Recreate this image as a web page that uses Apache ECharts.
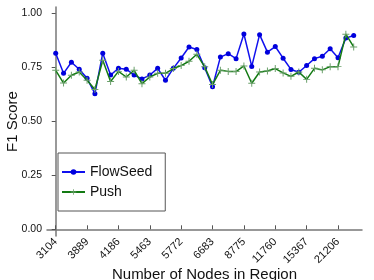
<!DOCTYPE html>
<html><head><meta charset="utf-8">
<script src="https://cdn.jsdelivr.net/npm/echarts@6/dist/echarts.min.js"></script>
<style>html,body{margin:0;padding:0;background:#fff}#c{width:374px;height:280px}</style>
</head><body><div id="c"></div>
<script>
const tickLabels = ['3104','3889','4186','5463','5772','6683','8775','11760','15367','21206'];
const flowSeed = [0.815,0.722,0.773,0.741,0.699,0.628,0.815,0.714,0.745,0.741,0.714,0.696,0.714,0.745,0.690,0.745,0.793,0.844,0.832,0.748,0.660,0.797,0.813,0.790,0.904,0.754,0.901,0.820,0.846,0.792,0.740,0.727,0.758,0.790,0.801,0.836,0.794,0.885,0.897];
const push = [0.736,0.677,0.713,0.728,0.690,0.647,0.782,0.684,0.731,0.705,0.736,0.674,0.705,0.722,0.722,0.744,0.758,0.778,0.810,0.752,0.670,0.736,0.731,0.730,0.756,0.676,0.728,0.733,0.744,0.724,0.708,0.728,0.694,0.745,0.738,0.753,0.753,0.903,0.844];
const tickIdx = tickLabels.map((_, i) => i * 4);
const plus = 'path://M-0.14,-1 L0.14,-1 L0.14,-0.14 L1,-0.14 L1,0.14 L0.14,0.14 L0.14,1 L-0.14,1 L-0.14,0.14 L-1,0.14 L-1,-0.14 L-0.14,-0.14 Z';
const chart = echarts.init(document.getElementById('c'), null, {renderer: 'canvas'});
const F = 'Liberation Sans, Arial, sans-serif';
chart.setOption({
  animation: false,
  textStyle: {fontFamily: F},
  grid: {left: 47, right: 12, top: 7, bottom: 44, containLabel: false, outerBoundsMode: 'none'},
  legend: {
    left: 58, top: 153, orient: 'vertical',
    padding: [12, 13, 12, 3], itemGap: 6, itemWidth: 23, itemHeight: 7,
    borderColor: '#555', borderWidth: 1,
    textStyle: {fontSize: 14, color: '#111', fontFamily: F},
    data: ['FlowSeed', 'Push']
  },
  xAxis: {
    type: 'value', min: -1.11, max: 39.06,
    name: 'Number of Nodes in Region', nameLocation: 'middle', nameGap: 31, nameMoveOverlap: false,
    nameTextStyle: {fontSize: 15, color: '#111', fontFamily: F},
    axisLine: {show: true, lineStyle: {color: '#777', width: 1.5}},
    axisTick: {show: true, inside: true, length: 4, customValues: tickIdx, lineStyle: {color: '#555'}},
    axisLabel: {customValues: tickIdx, rotate: 45, fontSize: 11, color: '#111', margin: 4,
      formatter: v => tickLabels[Math.round(v / 4)] || ''},
    splitLine: {show: false}
  },
  yAxis: {
    type: 'value', min: -0.031, max: 1.029,
    name: 'F1 Score', nameLocation: 'middle', nameGap: 27, nameRotate: 90, nameMoveOverlap: false,
    nameTextStyle: {fontSize: 15, color: '#111', fontFamily: F},
    axisLine: {show: true, lineStyle: {color: '#777', width: 1.5}},
    axisTick: {show: true, inside: false, length: 4, customValues: [0, 0.25, 0.5, 0.75, 1], lineStyle: {color: '#555'}},
    axisLabel: {customValues: [0, 0.25, 0.5, 0.75, 1], fontSize: 10.5, color: '#111', margin: 5,
      formatter: v => v.toFixed(2)},
    splitLine: {show: false}
  },
  series: [
    {name: 'FlowSeed', type: 'line', data: flowSeed.map((v, i) => [i, v]),
      symbol: 'circle', symbolSize: 5, showAllSymbol: true,
      lineStyle: {color: '#1010ee', width: 1.5}, itemStyle: {color: '#0000dd'}, z: 2},
    {name: 'Push', type: 'line', data: push.map((v, i) => [i, v]),
      symbol: plus, symbolSize: 7, showAllSymbol: true,
      lineStyle: {color: '#137a13', width: 1.5}, itemStyle: {color: '#6a9f6a'}, z: 3}
  ]
});
</script></body></html>
